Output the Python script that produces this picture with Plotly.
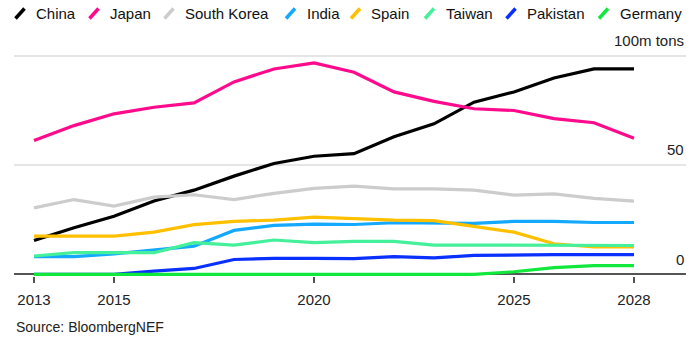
import plotly.graph_objects as go

years = list(range(2013, 2029))

china = [15.5, 21.3, 26.6, 33.5, 38.5, 44.9, 50.7, 54.0, 55.2, 62.9, 68.8, 78.7, 83.4, 89.8, 93.9, 93.9]
japan = [61.2, 68.0, 73.4, 76.4, 78.4, 88.0, 93.9, 96.7, 92.4, 83.4, 79.1, 75.7, 74.9, 71.2, 69.3, 62.2]
south_korea = [30.4, 34.2, 31.2, 35.3, 36.4, 34.2, 37.0, 39.3, 40.3, 39.1, 39.1, 38.5, 36.2, 36.8, 34.7, 33.5]
india = [8.1, 8.1, 9.4, 11.0, 12.9, 20.1, 22.4, 23.0, 22.8, 23.6, 23.6, 23.3, 24.2, 24.2, 23.7, 23.7]
spain = [17.5, 17.5, 17.5, 19.3, 22.7, 24.2, 24.8, 26.2, 25.6, 24.8, 24.6, 22.1, 19.3, 14.0, 12.5, 12.5]
taiwan = [8.4, 9.9, 9.9, 9.9, 14.5, 13.4, 15.7, 14.5, 15.1, 15.1, 13.4, 13.4, 13.4, 13.4, 13.4, 13.2]
pakistan = [0, 0, 0, 1.5, 2.7, 6.8, 7.3, 7.3, 7.2, 8.1, 7.5, 8.7, 9.0, 9.0, 9.0, 9.0]
germany = [0, 0, 0, 0, 0, 0, 0, 0, 0, 0, 0, 0, 1.2, 3.1, 4.0, 4.0]

series_names = ["China", "Japan", "South Korea", "India", "Spain", "Taiwan", "Pakistan", "Germany"]
series_values = [china, japan, south_korea, india, spain, taiwan, pakistan, germany]
colors = ["#000000", "#ff0a8c", "#cccccc", "#14a9ff", "#ffc000", "#44f09a", "#0a30ff", "#10e83c"]

x_tickvals = [2013, 2015, 2020, 2025, 2028]
x_ticktext = ["2013", "2015", "2020", "2025", "2028"]
y_tickvals = [0, 50, 100]
y_ticktext = ["0", "50", "100m tons"]

W, H = 700, 340
ML, MR, MT, MB = 14, 14, 26, 64
PW = W - ML - MR
PH = H - MT - MB
FONT = "Arial, Liberation Sans, Helvetica, sans-serif"


def px_x(p):
    return (p - ML) / PW


def px_y(p):
    return (H - MB - p) / PH


fig = go.Figure()
for name, vals, col in zip(series_names, series_values, colors):
    fig.add_trace(go.Scatter(
        x=years, y=vals, name=name, mode="lines",
        line=dict(color=col, width=3.2), showlegend=False,
    ))

# custom legend (slanted swatches + labels)
legend_icon_px = [20, 94, 169, 290.5, 355.5, 429.5, 511, 603.5]
shapes = []
annotations = []
for name, col, cx in zip(series_names, colors, legend_icon_px):
    shapes.append(dict(
        type="line", xref="paper", yref="paper",
        xsizemode="pixel", ysizemode="pixel",
        xanchor=px_x(cx), yanchor=px_y(13.5),
        x0=-4.5, x1=4.5, y0=-5, y1=5,
        line=dict(color=col, width=3.5),
    ))
    annotations.append(dict(
        text=name, xref="paper", yref="paper",
        x=px_x(cx + 14), y=px_y(14), xanchor="left", yanchor="middle",
        showarrow=False, font=dict(family=FONT, size=15, color="#111111"),
    ))

# y tick labels sitting above their gridlines, right-aligned
for v, t in zip(y_tickvals, y_ticktext):
    annotations.append(dict(
        text=t, xref="paper", yref="y", x=1, y=v,
        xanchor="right", yanchor="middle", yshift=15,
        showarrow=False, font=dict(family=FONT, size=15, color="#222222"),
    ))

annotations.append(dict(
    text="Source: BloombergNEF", xref="paper", yref="paper",
    x=0, y=px_y(327), xanchor="left", yanchor="middle",
    showarrow=False, font=dict(family=FONT, size=14, color="#222222"),
))

fig.update_layout(
    width=W, height=H,
    margin=dict(l=ML, r=MR, t=MT, b=MB, pad=0),
    plot_bgcolor="white", paper_bgcolor="white",
    shapes=shapes, annotations=annotations,
    showlegend=False,
    xaxis=dict(
        range=[2012.5, 2029.3],
        tickvals=x_tickvals, ticktext=x_ticktext,
        showgrid=False, zeroline=False, showline=False,
        ticks="outside", ticklen=6, tickwidth=1.5, tickcolor="#555555",
        tickfont=dict(family=FONT, size=15, color="#222222"),
        ticklabelstandoff=4,
    ),
    yaxis=dict(
        range=[-0.75, 113.54],
        side="right",
        tickvals=y_tickvals,
        showticklabels=False,
        showgrid=True, gridcolor="#e6e6e6", gridwidth=1.5,
        zeroline=True, zerolinecolor="#555555", zerolinewidth=1.5,
        showline=False, ticks="",
    ),
)

fig.write_html("out.html")
